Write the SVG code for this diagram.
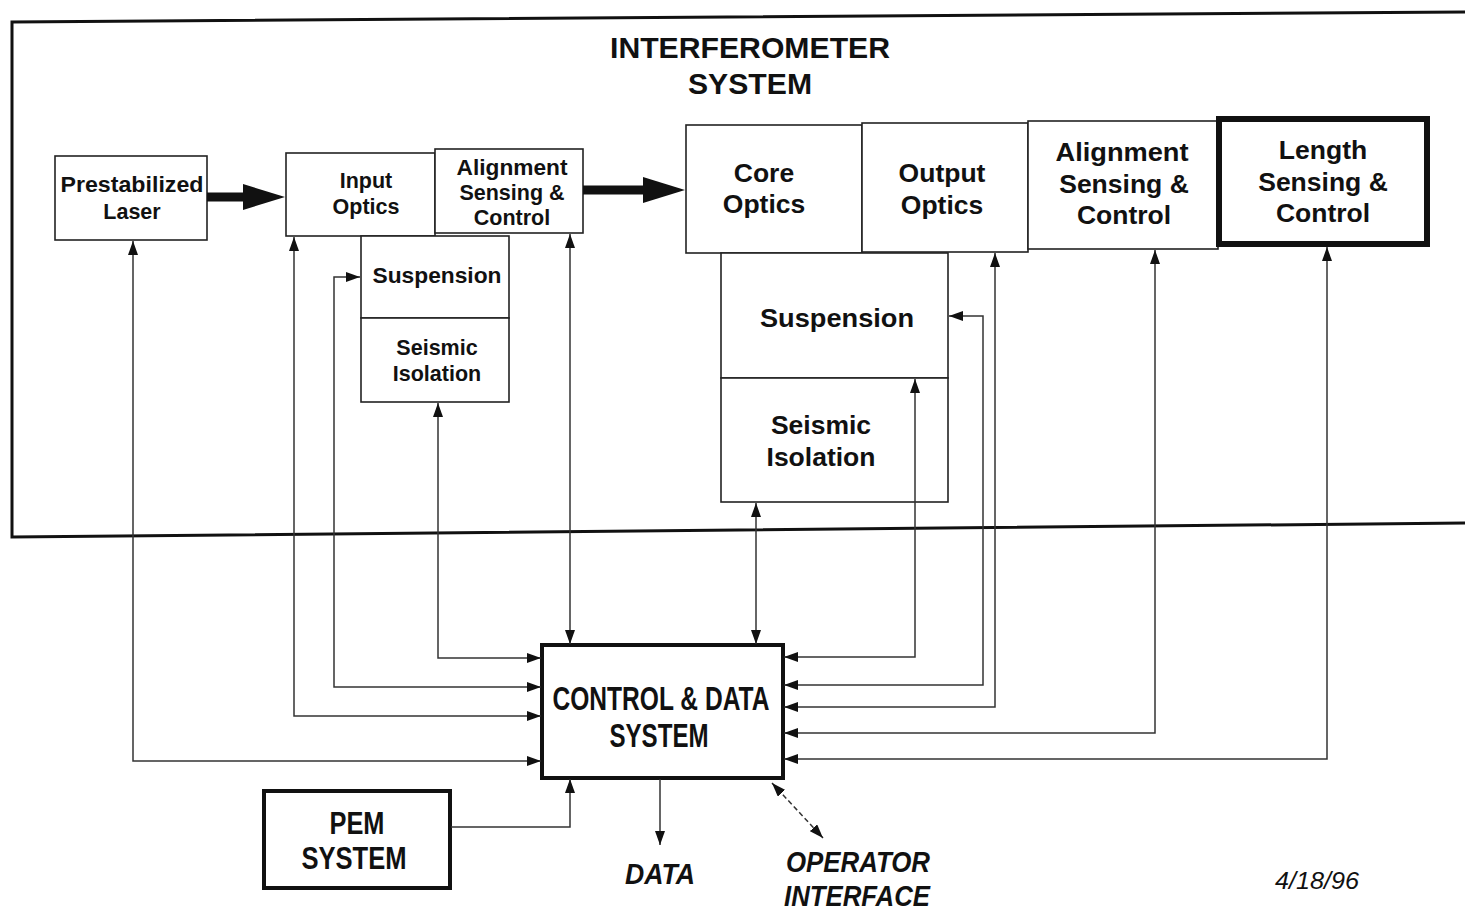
<svg xmlns="http://www.w3.org/2000/svg" width="1465" height="911" viewBox="0 0 1465 911">
<defs>
<style>
.t{font-family:"Liberation Sans",Arial,sans-serif;font-weight:bold;fill:#111;text-anchor:middle}
.n{font-family:"Liberation Sans Narrow","Liberation Sans",Arial,sans-serif;font-weight:bold;fill:#111;text-anchor:middle}
.s{font-size:21.5px}
.b{font-size:26.5px}
.box{fill:#fff;stroke:#222;stroke-width:1.6}
.thick{fill:#fff;stroke:#111;stroke-width:4}
.c{fill:none;stroke:#333;stroke-width:1.5}
</style>
<marker id="ah" markerUnits="userSpaceOnUse" markerWidth="14" markerHeight="10" refX="14" refY="5" orient="auto-start-reverse">
<path d="M0,0 L14,5 L0,10 z" fill="#111"/>
</marker>
</defs>
<rect width="1465" height="911" fill="#fff"/>
<path d="M1465,12 L12,22 L12,537 L1465,523" fill="none" stroke="#111" stroke-width="3"/>
<text class="t" x="750" y="58" font-size="30" textLength="280" lengthAdjust="spacingAndGlyphs">INTERFEROMETER</text>
<text class="t" x="750" y="94" font-size="30" textLength="124" lengthAdjust="spacingAndGlyphs">SYSTEM</text>

<g id="laser"><rect class="box" x="55" y="156" width="152" height="84"/>
<text class="t s" x="132" y="192" textLength="143" lengthAdjust="spacingAndGlyphs">Prestabilized</text>
<text class="t s" x="132" y="219">Laser</text></g>

<g id="input-optics"><rect class="box" x="286" y="153" width="149" height="83"/>
<text class="t s" x="366" y="188">Input</text>
<text class="t s" x="366" y="214">Optics</text></g>

<g id="asc-small"><rect class="box" x="435" y="149" width="148" height="84"/>
<text class="t s" x="512" y="175" textLength="111" lengthAdjust="spacingAndGlyphs">Alignment</text>
<text class="t s" x="512" y="200">Sensing &amp;</text>
<text class="t s" x="512" y="225">Control</text></g>

<g id="susp-left"><rect class="box" x="361" y="236" width="148" height="82"/>
<text class="t s" x="437" y="283" textLength="129" lengthAdjust="spacingAndGlyphs">Suspension</text></g>

<g id="seis-left"><rect class="box" x="361" y="318" width="148" height="84"/>
<text class="t s" x="437" y="355">Seismic</text>
<text class="t s" x="437" y="381">Isolation</text></g>

<g id="core-optics"><rect class="box" x="686" y="125" width="176" height="128"/>
<text class="t b" x="764" y="182">Core</text>
<text class="t b" x="764" y="213">Optics</text></g>

<g id="output-optics"><rect class="box" x="862" y="123" width="166" height="129"/>
<text class="t b" x="942" y="182">Output</text>
<text class="t b" x="942" y="214">Optics</text></g>

<g id="asc-big"><rect class="box" x="1028" y="121" width="190" height="128"/>
<text class="t b" x="1122" y="161" textLength="133" lengthAdjust="spacingAndGlyphs">Alignment</text>
<text class="t b" x="1124" y="193">Sensing &amp;</text>
<text class="t b" x="1124" y="224">Control</text></g>

<g id="lsc"><rect x="1219" y="119" width="208" height="125" fill="#fff" stroke="#111" stroke-width="6"/>
<text class="t b" x="1323" y="159">Length</text>
<text class="t b" x="1323" y="191">Sensing &amp;</text>
<text class="t b" x="1323" y="222">Control</text></g>

<g id="susp-right"><rect class="box" x="721" y="253" width="227" height="125"/>
<text class="t b" x="837" y="327" textLength="154" lengthAdjust="spacingAndGlyphs">Suspension</text></g>

<g id="seis-right"><rect class="box" x="721" y="378" width="227" height="124"/>
<text class="t b" x="821" y="434">Seismic</text>
<text class="t b" x="821" y="466">Isolation</text></g>

<g id="cds"><rect class="thick" x="542" y="645" width="241" height="133"/>
<text class="n" x="661" y="710" font-size="33" textLength="217" lengthAdjust="spacingAndGlyphs">CONTROL &amp; DATA</text>
<text class="n" x="659" y="747" font-size="33" textLength="99" lengthAdjust="spacingAndGlyphs">SYSTEM</text></g>

<g id="pem"><rect class="thick" x="264" y="791" width="186" height="97"/>
<text class="n" x="357" y="834" font-size="31" textLength="55" lengthAdjust="spacingAndGlyphs">PEM</text>
<text class="n" x="354" y="869" font-size="31" textLength="105" lengthAdjust="spacingAndGlyphs">SYSTEM</text></g>

<g id="labels">
<text class="n" x="660" y="884" font-size="30" font-style="italic" textLength="70" lengthAdjust="spacingAndGlyphs">DATA</text>
<text class="n" x="858" y="872" font-size="29" font-style="italic" textLength="144" lengthAdjust="spacingAndGlyphs">OPERATOR</text>
<text class="n" x="857" y="906" font-size="29" font-style="italic" textLength="146" lengthAdjust="spacingAndGlyphs">INTERFACE</text>
<text x="1317" y="889" font-family="Liberation Sans,Arial,sans-serif" font-style="italic" font-size="23" text-anchor="middle" fill="#111" textLength="84" lengthAdjust="spacingAndGlyphs">4/18/96</text>
</g>

<g id="connectors">
<path d="M207,197 H247" stroke="#111" stroke-width="9" fill="none"/>
<polygon points="243,184 285,197 243,210" fill="#111"/>
<path d="M583,190 H645" stroke="#111" stroke-width="9" fill="none"/>
<polygon points="643,177 685,190 643,203" fill="#111"/>
<path class="c" d="M133,241 V761 H541" marker-start="url(#ah)" marker-end="url(#ah)"/>
<path class="c" d="M294,237 V716 H541" marker-start="url(#ah)" marker-end="url(#ah)"/>
<path class="c" d="M360,277 H334 V687 H541" marker-start="url(#ah)" marker-end="url(#ah)"/>
<path class="c" d="M438,403 V658 H541" marker-start="url(#ah)" marker-end="url(#ah)"/>
<path class="c" d="M570,234 V644" marker-start="url(#ah)" marker-end="url(#ah)"/>
<path class="c" d="M756,503 V644" marker-start="url(#ah)" marker-end="url(#ah)"/>
<path class="c" d="M915,379 V657 H784" marker-start="url(#ah)" marker-end="url(#ah)"/>
<path class="c" d="M949,316 H983 V685 H784" marker-start="url(#ah)" marker-end="url(#ah)"/>
<path class="c" d="M995,253 V707 H784" marker-start="url(#ah)" marker-end="url(#ah)"/>
<path class="c" d="M1155,250 V733 H784" marker-start="url(#ah)" marker-end="url(#ah)"/>
<path class="c" d="M1327,247 V759 H784" marker-start="url(#ah)" marker-end="url(#ah)"/>
<path class="c" d="M451,827 H570 V779" marker-end="url(#ah)"/>
<path class="c" d="M660,779 V845" marker-end="url(#ah)"/>
<path class="c" d="M772,783 L823,838" stroke-dasharray="5,3" marker-start="url(#ah)" marker-end="url(#ah)"/>
</g>
</svg>
